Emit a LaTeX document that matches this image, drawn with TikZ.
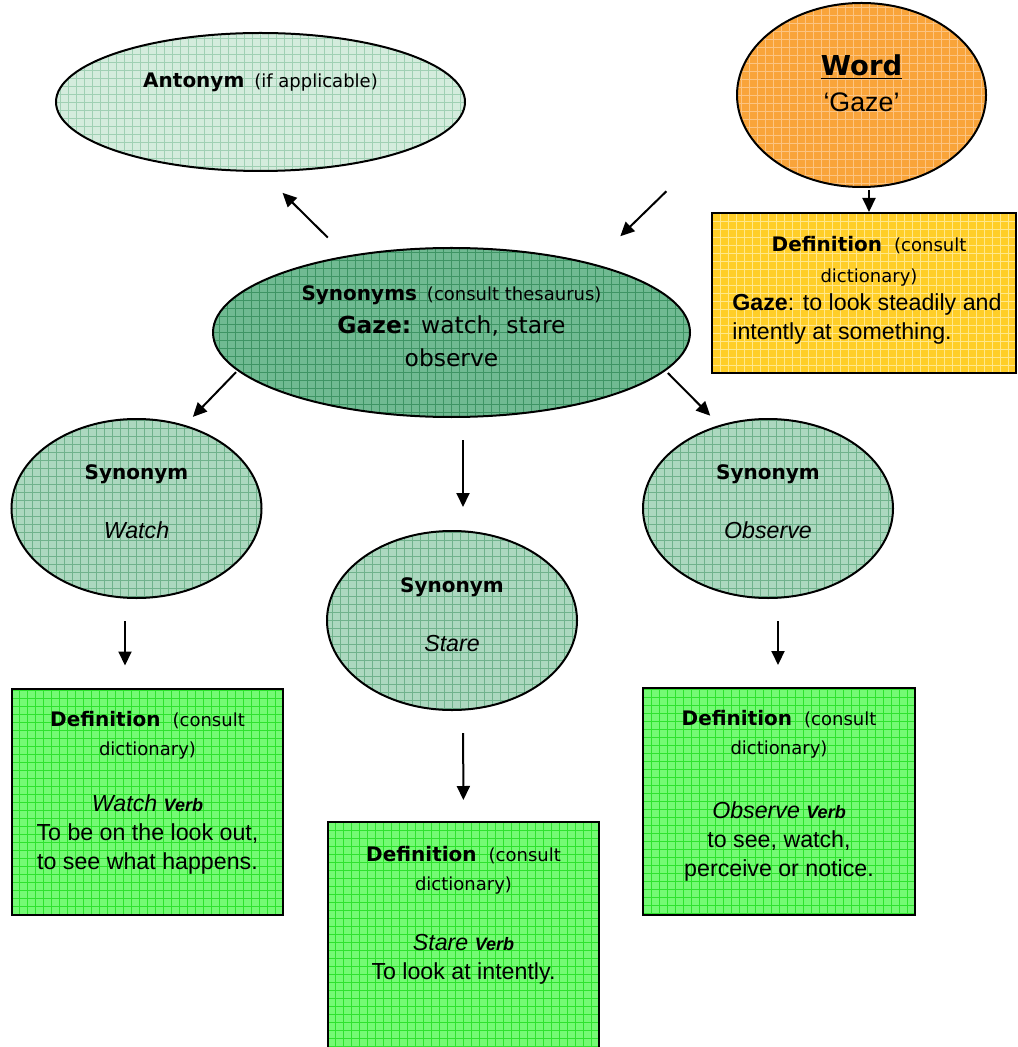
\documentclass[tikz,border=0pt]{standalone}
\usepackage{fontspec}
\setmainfont{Liberation Sans}
\newfontfamily\comicfont{DejaVu Sans}
\usetikzlibrary{arrows.meta, shapes.geometric}

\definecolor{antfill}{RGB}{212,236,221}
\definecolor{antgrid}{RGB}{160,208,180}
\definecolor{synfill}{RGB}{112,186,146}
\definecolor{syngrid}{RGB}{62,148,100}
\definecolor{smallfill}{RGB}{172,216,191}
\definecolor{smallgrid}{RGB}{112,178,140}
\definecolor{wordfill}{RGB}{249,164,58}
\definecolor{wordgrid}{RGB}{252,196,130}
\definecolor{goldfill}{RGB}{255,206,40}
\definecolor{goldgrid}{RGB}{255,232,140}
\definecolor{deffill}{RGB}{116,250,116}
\definecolor{defgrid}{RGB}{46,226,46}

\tikzset{grain/.style 2 args={
    fill=#1,
    path picture={\draw[#2, line width=0.3pt] (path picture bounding box.south west) grid[step=4pt] (path picture bounding box.north east);}
}}

\newcommand{\hd}[1]{{\comicfont\bfseries\fontsize{10}{12}\selectfont #1}}
\newcommand{\pn}[1]{{\comicfont\fontsize{9}{12}\selectfont #1}}
\newcommand{\vb}[1]{{\bfseries\itshape\fontsize{9}{12}\selectfont #1}}

\begin{document}
\begin{tikzpicture}[
            x = 0.5pt, y = -0.5pt, % one unit per pixel, y going down
            > = {Triangle[length=7pt, width=6.5pt]}, % arrow head style
            font = \fontsize{11.6}{14.5}\selectfont
        ]

        \tikzstyle{blob}=[ellipse, draw=black, line width=1pt, inner sep=0pt, outer sep=0pt]
        \tikzstyle{box}=[rectangle, draw=black, line width=1pt, inner sep=0pt, outer sep=0pt]
        \tikzstyle{txt}=[align=center, inner sep=0pt]
        \tikzstyle{arr}=[->, line width=1pt]

	\useasboundingbox (0,0) rectangle (1017,1047);

	% shapes
	\node[blob, grain={antfill}{antgrid}, minimum width=204.5pt, minimum height=69pt] (ant) at (260.5,102) {};
	\node[blob, grain={wordfill}{wordgrid}, minimum width=124.5pt, minimum height=92pt] (word) at (861.5,95) {};
	\node[box, grain={goldfill}{goldgrid}, minimum width=152pt, minimum height=80pt] (worddef) at (864,293) {};
	\node[blob, grain={synfill}{syngrid}, minimum width=238.5pt, minimum height=84.5pt] (syn) at (451.5,332.5) {};
	\node[blob, grain={smallfill}{smallgrid}, minimum width=125pt, minimum height=89.5pt] (watch) at (136.5,508.5) {};
	\node[blob, grain={smallfill}{smallgrid}, minimum width=125pt, minimum height=89.5pt] (stare) at (452,620.5) {};
	\node[blob, grain={smallfill}{smallgrid}, minimum width=125pt, minimum height=89.5pt] (observe) at (768,508.5) {};
	\node[box, grain={deffill}{defgrid}, minimum width=135.5pt, minimum height=113pt] (watchdef) at (147.5,802) {};
	\node[box, grain={deffill}{defgrid}, minimum width=135.5pt, minimum height=120pt] (staredef) at (463.5,942) {};
	\node[box, grain={deffill}{defgrid}, minimum width=136pt, minimum height=113.5pt] (observedef) at (779,801.5) {};

	% texts
	\node[txt] (anttext) at ([yshift=10pt]ant.center) {\hd{Antonym}\hspace{5pt}\pn{(if applicable)}};
	\node[txt, font=\fontsize{13.4}{18}\selectfont] (wordtext) at ([yshift=6pt]word.center)
	    {{\comicfont\bfseries\fontsize{13.7}{18}\selectfont\underline{Word}}\\`Gaze'};
	\node[txt, anchor=north, font=\fontsize{9}{15.5}\selectfont] (worddefhead) at ([xshift=2.5pt, yshift=-11.5pt]worddef.north)
	    {\hd{Definition}\hspace{6pt}\pn{(consult}\\\pn{dictionary)}};
	\node[txt, align=left, anchor=north west] (worddefbody) at ([xshift=10pt, yshift=-40pt]worddef.north west)
	    {\textbf{Gaze}: to look steadily and\\intently at something.};
	\node[txt, font=\fontsize{11.7}{16.5}\selectfont] (syntext) at ([yshift=3.25pt]syn.center)
	    {\hd{Synonyms}\hspace{5pt}\pn{(consult thesaurus)}\\{\comicfont\textbf{Gaze:} watch, stare}\\{\comicfont observe}};
	\node[txt] (watchtext) at ([yshift=3.5pt]watch.center) {\hd{Synonym}\\[15pt]\textit{Watch}};
	\node[txt] (staretext) at ([yshift=3pt]stare.center) {\hd{Synonym}\\[15pt]\textit{Stare}};
	\node[txt] (observetext) at ([yshift=3.5pt]observe.center) {\hd{Synonym}\\[15pt]\textit{Observe}};
	\node[txt, anchor=north] (watchdeftext) at ([yshift=-11pt]watchdef.north)
	    {\hd{Definition}\hspace{6pt}\pn{(consult}\\\pn{dictionary)}\\[13.5pt]\textit{Watch} \vb{Verb}\\To be on the look out,\\to see what happens.};
	\node[txt, anchor=north] (staredeftext) at ([yshift=-12pt]staredef.north)
	    {\hd{Definition}\hspace{6pt}\pn{(consult}\\\pn{dictionary)}\\[15.5pt]\textit{Stare} \vb{Verb}\\To look at intently.};
	\node[txt, anchor=north] (observedeftext) at ([yshift=-11pt]observedef.north)
	    {\hd{Definition}\hspace{6pt}\pn{(consult}\\\pn{dictionary)}\\[17.5pt]\textit{Observe} \vb{Verb}\\to see, watch,\\perceive or notice.};

	% arrows
	\draw[arr, shorten <=13.5pt, shorten >=15.5pt] (syn.144) -- (ant.south);
	\draw[arr, shorten <=52.2pt, shorten >=20pt] (word.191) -- (syn.26);
	\draw[arr, shorten <=1.5pt, shorten >=0.5pt] ([xshift=3.75pt]word.south) -- ([xshift=2.5pt]worddef.north);
	\draw[arr, shorten <=1.4pt, shorten >=6.2pt] (syn.190) -- (watch.60);
	\draw[arr, shorten <=11.5pt, shorten >=12pt] ([xshift=5.75pt]syn.south) -- ([xshift=5.5pt]stare.north);
	\draw[arr, shorten <=2pt, shorten >=7.1pt] (syn.350) -- (observe.120);
	\draw[arr, shorten <=11.5pt, shorten >=11.75pt] ([xshift=-5.75pt]watch.south) -- ([xshift=-11.25pt]watchdef.north);
	\draw[arr, shorten <=11.5pt, shorten >=11pt] ([xshift=5.5pt]stare.south) -- (staredef.north);
	\draw[arr, shorten <=11.5pt, shorten >=11.5pt] ([xshift=5pt]observe.south) -- ([xshift=-0.5pt]observedef.north);

    \end{tikzpicture}
\end{document}
